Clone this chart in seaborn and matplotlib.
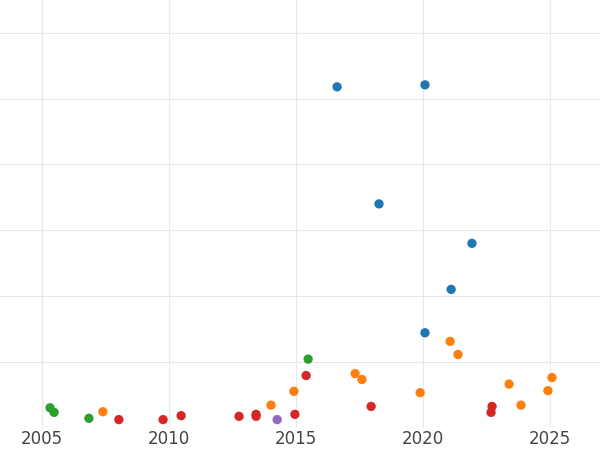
import matplotlib
matplotlib.use("Agg")
import matplotlib.pyplot as plt
import seaborn as sns
import pandas as pd

# values (y axis is unlabelled)
blue_x = [2016.62, 2020.08, 2018.27, 2021.93, 2021.11, 2020.08]
blue_y = [5.18, 5.21, 3.40, 2.80, 2.10, 1.44]
green_x = [2005.32, 2005.48, 2006.85, 2015.48]
green_y = [0.30, 0.23, 0.14, 1.04]
orange_x = [2007.40, 2014.02, 2014.92, 2017.33, 2017.60, 2019.89,
            2021.07, 2021.38, 2023.39, 2023.86, 2024.92, 2025.08]
orange_y = [0.24, 0.34, 0.55, 0.82, 0.73, 0.53, 1.31, 1.11, 0.66, 0.34, 0.56, 0.76]
red_x = [2008.03, 2009.77, 2010.48, 2012.76, 2013.43, 2013.43,
         2014.96, 2015.40, 2017.96, 2022.72, 2022.68]
red_y = [0.12, 0.12, 0.18, 0.17, 0.20, 0.17, 0.20, 0.79, 0.32, 0.32, 0.23]
purple_x = [2014.26]
purple_y = [0.12]

groups = [("blue", blue_x, blue_y), ("green", green_x, green_y),
          ("orange", orange_x, orange_y), ("red", red_x, red_y),
          ("purple", purple_x, purple_y)]
df = pd.concat([pd.DataFrame({"year": x, "val": y, "grp": g}) for g, x, y in groups])

palette = {"blue": "#1f77b4", "green": "#2ca02c", "orange": "#ff7f0e",
           "red": "#d62728", "purple": "#9467bd"}

sns.set_style("whitegrid")
fig = plt.figure(figsize=(6, 4.5), dpi=100)
ax = fig.add_axes([0, 0.05, 1, 0.95])
sns.scatterplot(data=df, x="year", y="val", hue="grp", palette=palette,
                s=45, edgecolor="none", legend=False, ax=ax)
ax.set_xlim(2003.35, 2026.97)
ax.set_ylim(0, 6.5)
ax.set_xticks([2005, 2010, 2015, 2020, 2025])
ax.set_yticks([1, 2, 3, 4, 5, 6])
ax.set_yticklabels([])
ax.tick_params(axis="x", labelsize=12, colors="#444444", pad=2, length=0)
ax.tick_params(axis="y", length=0)
ax.grid(color="#e8e8e8")
ax.set_xlabel("")
ax.set_ylabel("")
for s in ax.spines.values():
    s.set_visible(False)
fig.savefig("out.png", dpi=100)
